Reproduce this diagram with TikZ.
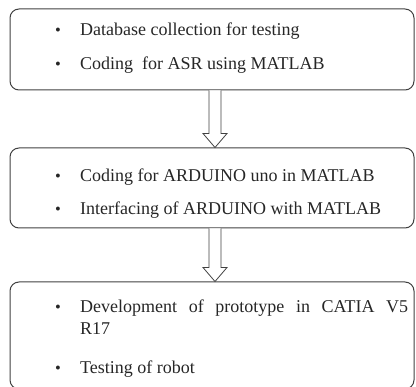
\documentclass[tikz,border=0pt]{standalone}
\usepackage{fontspec}
\setmainfont{Liberation Serif}
\usetikzlibrary{positioning,calc}

\tikzset{
	stage/.style={draw=black!75, line width=1pt, rounded corners=9pt,
		minimum width=404pt, inner sep=0pt},
	itemtext/.style={anchor=base west, inner sep=0pt, text=black!85,
		font=\fontsize{18}{22}\selectfont},
	dot/.style={anchor=base, inner sep=0pt, text=black!85,
		font=\fontsize{16.5}{22}\selectfont},
	flow/.style={draw=black!75, line width=0.8pt, fill=white},
}

% hollow block arrow from the bottom of one stage to the top of the next
\newcommand{\flowarrow}[2]{%
	\draw[flow] ($(#1.south)+(-3,0)$) -- ($(#2.north)+(-3,14)$)
		-- ($(#2.north)+(-9,14)$) -- ($(#2.north)+(3,0)$)
		-- ($(#2.north)+(15,14)$) -- ($(#2.north)+(9,14)$)
		-- ($(#1.south)+(9,0)$);
}

\begin{document}
\begin{tikzpicture}[x=1pt,y=1pt]
	\useasboundingbox (0,0) rectangle (416,-387);

	\node[stage, minimum height=81pt] (s1) at (212,-49.5) {};
	\node[stage, minimum height=80pt] (s2) at (212,-188) {};
	\node[stage, minimum height=107pt] (s3) at (212,-335.5) {};

	\node[dot] (b11) at (58,-36) {•};
	\node[itemtext] (t11) at (80,-36) {Database collection for testing};
	\node[dot] (b12) at (58,-70) {•};
	\node[itemtext] (t12) at (80,-70) {Coding\ \ for ASR using MATLAB};

	\node[dot] (b21) at (58,-182) {•};
	\node[itemtext] (t21) at (80,-182) {Coding for ARDUINO uno in MATLAB};
	\node[dot] (b22) at (58,-215) {•};
	\node[itemtext] (t22) at (80,-215) {Interfacing of ARDUINO with MATLAB};

	\node[dot] (b31) at (58,-313) {•};
	\node[itemtext, text width=328pt, align=justify] (t31) at (80,-313)
		{Development of prototype in CATIA V5\linebreak R17};
	\node[dot] (b32) at (58,-374) {•};
	\node[itemtext] (t32) at (80,-374) {Testing of robot};

	\flowarrow{s1}{s2}
	\flowarrow{s2}{s3}
\end{tikzpicture}
\end{document}
